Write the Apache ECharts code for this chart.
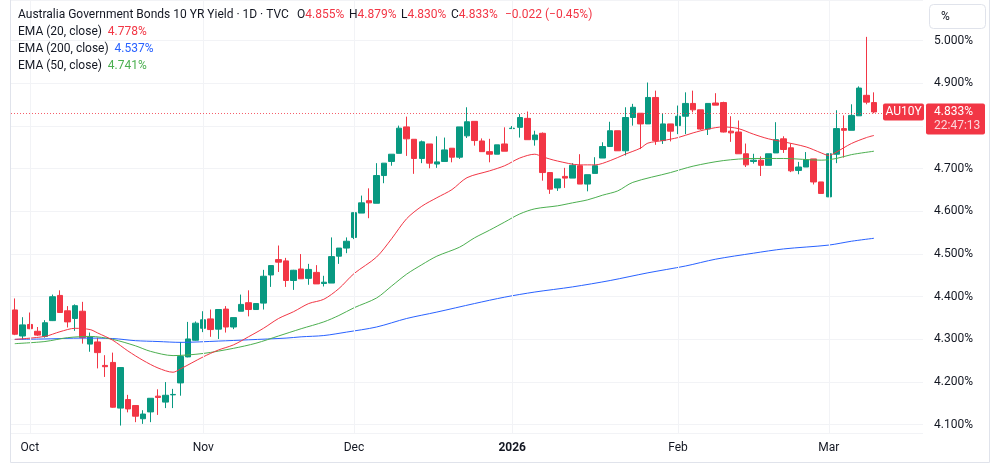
<!DOCTYPE html>
<html>
<head>
<meta charset="utf-8">
<title>AU10Y</title>
<script src="https://cdn.jsdelivr.net/npm/echarts@6/dist/echarts.min.js"></script>
<style>
html,body{margin:0;padding:0;background:#fff;}
#main{width:1000px;height:467px;}
</style>
</head>
<body>
<div id="main"></div>
<script>
// daily candles, Sep 29 2025 .. Mar 10 2026
var opens = [
  4.369,4.308,4.335,4.319,4.307,4.344,4.403,4.367,4.349,4.366,
  4.289,4.294,4.239,4.246,4.139,4.159,4.145,4.114,4.130,4.167,
  4.153,4.170,4.198,4.259,4.298,4.326,4.348,4.324,4.371,4.329,
  4.366,4.386,4.370,4.385,4.451,4.487,4.484,4.438,4.465,4.443,
  4.457,4.431,4.432,4.495,4.514,4.539,4.596,4.625,4.619,4.684,
  4.717,4.736,4.798,4.769,4.724,4.758,4.711,4.717,4.748,4.727,
  4.777,4.811,4.765,4.740,4.734,4.758,4.794,4.797,4.818,4.768,
  4.783,4.691,4.655,4.682,4.678,4.707,4.664,4.689,4.725,4.752,
  4.789,4.742,4.820,4.830,4.805,4.867,4.766,4.805,4.801,4.823,
  4.853,4.838,4.793,4.854,4.855,4.788,4.786,4.735,4.717,4.720,
  4.708,4.737,4.770,4.749,4.696,4.704,4.723,4.669,4.634,4.734,
  4.794,4.790,4.824,4.872,4.855
];
var highs = [
  4.396,4.352,4.363,4.329,4.345,4.405,4.415,4.378,4.382,4.388,
  4.316,4.304,4.263,4.269,4.235,4.170,4.146,4.134,4.162,4.183,
  4.200,4.184,4.294,4.341,4.342,4.366,4.370,4.370,4.378,4.351,
  4.405,4.415,4.384,4.463,4.473,4.520,4.491,4.463,4.500,4.477,
  4.474,4.449,4.539,4.514,4.539,4.597,4.637,4.654,4.713,4.713,
  4.734,4.801,4.822,4.769,4.766,4.758,4.776,4.773,4.748,4.798,
  4.844,4.811,4.771,4.770,4.756,4.797,4.800,4.828,4.834,4.789,
  4.785,4.691,4.676,4.702,4.713,4.734,4.686,4.727,4.762,4.810,
  4.789,4.844,4.852,4.830,4.902,4.883,4.830,4.805,4.848,4.879,
  4.883,4.838,4.853,4.877,4.857,4.823,4.813,4.759,4.735,4.729,
  4.735,4.809,4.776,4.759,4.716,4.739,4.723,4.669,4.735,4.837,
  4.825,4.851,4.893,5.009,4.879
];
var lows = [
  4.310,4.300,4.324,4.308,4.304,4.343,4.362,4.328,4.320,4.290,
  4.271,4.232,4.212,4.140,4.098,4.129,4.106,4.102,4.106,4.123,
  4.139,4.139,4.168,4.258,4.297,4.317,4.306,4.301,4.316,4.324,
  4.366,4.354,4.369,4.370,4.423,4.458,4.423,4.416,4.442,4.428,
  4.430,4.424,4.432,4.477,4.502,4.535,4.596,4.584,4.619,4.666,
  4.707,4.736,4.730,4.688,4.713,4.701,4.702,4.717,4.715,4.723,
  4.772,4.754,4.740,4.715,4.734,4.741,4.793,4.773,4.768,4.754,
  4.672,4.641,4.648,4.655,4.678,4.664,4.647,4.689,4.725,4.752,
  4.742,4.731,4.801,4.746,4.805,4.756,4.758,4.764,4.781,4.781,
  4.832,4.791,4.779,4.849,4.785,4.763,4.735,4.704,4.712,4.683,
  4.708,4.737,4.737,4.692,4.687,4.704,4.663,4.642,4.634,4.713,
  4.726,4.790,4.824,4.851,4.830
];
var closes = [
  4.312,4.334,4.325,4.310,4.339,4.400,4.363,4.341,4.379,4.304,
  4.306,4.269,4.236,4.141,4.234,4.137,4.120,4.125,4.162,4.164,
  4.169,4.171,4.260,4.301,4.338,4.346,4.323,4.370,4.329,4.351,
  4.382,4.370,4.384,4.448,4.473,4.481,4.438,4.462,4.442,4.464,
  4.430,4.434,4.494,4.514,4.530,4.597,4.620,4.620,4.684,4.713,
  4.734,4.795,4.770,4.724,4.763,4.713,4.716,4.744,4.727,4.798,
  4.810,4.766,4.740,4.734,4.756,4.741,4.795,4.820,4.768,4.779,
  4.691,4.652,4.676,4.678,4.708,4.664,4.686,4.707,4.752,4.789,
  4.742,4.820,4.844,4.805,4.867,4.766,4.805,4.788,4.823,4.853,
  4.838,4.793,4.853,4.849,4.786,4.784,4.735,4.709,4.720,4.708,
  4.735,4.768,4.745,4.695,4.704,4.721,4.669,4.642,4.735,4.794,
  4.790,4.825,4.889,4.856,4.833
];
// EMA readings: [bar index, value]
var ema20 = [
  [0,4.300],[4,4.307],[6,4.318],[8,4.326],[10,4.323],[11,4.315],[13,4.298],[15,4.273],
  [17,4.251],[19,4.233],[21,4.223],[22,4.231],[25,4.259],[27,4.275],[29,4.287],[31,4.306],
  [33,4.326],[35,4.349],[37,4.365],[39,4.384],[41,4.394],[43,4.419],[45,4.454],[48,4.493],
  [50,4.536],[52,4.583],[54,4.612],[56,4.632],[58,4.651],[60,4.679],[63,4.695],[65,4.707],
  [67,4.725],[69,4.734],[70,4.728],[72,4.718],[75,4.709],[77,4.709],[79,4.719],[81,4.734],
  [83,4.748],[84,4.760],[86,4.766],[88,4.773],[90,4.784],[92,4.793],[94,4.798],[96,4.794],
  [98,4.781],[100,4.770],[102,4.763],[105,4.751],[107,4.737],[108,4.731],[109,4.739],
  [111,4.759],[113,4.773],[114,4.778]
];
var ema50 = [
  [0,4.290],[4,4.295],[7,4.304],[10,4.307],[13,4.300],[16,4.285],[18,4.272],[21,4.262],
  [25,4.267],[29,4.279],[32,4.291],[35,4.308],[38,4.325],[41,4.341],[43,4.356],[45,4.374],
  [48,4.397],[50,4.425],[52,4.453],[54,4.475],[56,4.495],[59,4.516],[61,4.538],[63,4.556],
  [65,4.575],[67,4.594],[69,4.606],[72,4.613],[74,4.620],[76,4.627],[78,4.638],[80,4.648],
  [82,4.668],[87,4.691],[90,4.706],[94,4.719],[98,4.724],[102,4.724],[107,4.720],[109,4.724],
  [111,4.733],[114,4.741]
];
var ema200 = [
  [0,4.300],[4,4.301],[9,4.303],[13,4.302],[16,4.297],[19,4.295],[22,4.293],[27,4.296],
  [31,4.299],[36,4.303],[38,4.306],[41,4.309],[44,4.317],[48,4.329],[52,4.349],[56,4.364],
  [61,4.384],[65,4.399],[69,4.411],[74,4.423],[79,4.438],[84,4.456],[89,4.472],[93,4.488],
  [98,4.502],[102,4.512],[108,4.521],[111,4.530],[114,4.537]
];
var monthLabels = {
  '2025-10-01': 'Oct', '2025-11-03': 'Nov', '2025-12-01': 'Dec',
  '2026-01-01': '2026', '2026-02-02': 'Feb', '2026-03-02': 'Mar'
};
var holidays = ['2025-12-25', '2025-12-26'];
var futureDays = 6;
var lastClose = 4.833;
// header readout: [label, value]
var ohlcHeader = [['O', '4.855%'], ['H', '4.879%'], ['L', '4.830%'], ['C', '4.833%'], ['', '−0.022 (−0.45%)']];

var UP = '#089981', DOWN = '#F23645';
var FONT = 'Roboto, "Noto Sans", sans-serif';
var LEG = '12px ' + FONT;

// trading days (weekdays minus holidays), plus empty slots on the right
var dates = [];
var d = new Date(Date.UTC(2025, 8, 29));
while (dates.length < opens.length + futureDays) {
  var s = d.toISOString().slice(0, 10);
  var wd = d.getUTCDay();
  if (wd !== 0 && wd !== 6 && holidays.indexOf(s) < 0) dates.push(s);
  d.setUTCDate(d.getUTCDate() + 1);
}
var ohlc = [];
for (var i = 0; i < opens.length; i++) {
  ohlc.push([opens[i], closes[i], lows[i], highs[i]]);
}
var monthLines = [];
for (var k in monthLabels) monthLines.push({ xAxis: k });

var myChart = echarts.init(document.getElementById('main'));

function legendText() {
  var out = [
    { type: 'text', x: 18, y: 15, z: 50, style: { text: 'Australia Government Bonds 10 YR Yield · 1D · TVC', font: LEG, fill: '#131722', verticalAlign: 'middle' } },
    { type: 'text', x: 18, y: 32, z: 50, style: { text: 'EMA (20, close)  {v|4.778%}', font: LEG, fill: '#131722', verticalAlign: 'middle', rich: { v: { fill: '#F23645', font: LEG } } } },
    { type: 'text', x: 18, y: 49, z: 50, style: { text: 'EMA (200, close)  {v|4.537%}', font: LEG, fill: '#131722', verticalAlign: 'middle', rich: { v: { fill: '#2962FF', font: LEG } } } },
    { type: 'text', x: 18, y: 66, z: 50, style: { text: 'EMA (50, close)  {v|4.741%}', font: LEG, fill: '#131722', verticalAlign: 'middle', rich: { v: { fill: '#4CAF50', font: LEG } } } }
  ];
  var xs = [297, 349, 401, 451, 505];
  ohlcHeader.forEach(function (h, j) {
    out.push({ type: 'text', x: xs[j], y: 15, z: 50, style: { text: h[0] + '{r|' + h[1] + '}', font: LEG, fill: '#131722', verticalAlign: 'middle', rich: { r: { fill: DOWN, font: LEG } } } });
  });
  return out;
}

var option = {
  animation: false,
  backgroundColor: '#ffffff',
  textStyle: { fontFamily: FONT },
  grid: { left: 11, right: 77, top: 0, bottom: 34 },
  xAxis: {
    type: 'category',
    data: dates,
    boundaryGap: true,
    axisLine: { show: false },
    axisTick: { show: false },
    splitLine: { show: false },
    axisLabel: {
      margin: 9,
      fontSize: 12,
      color: '#131722',
      interval: function (idx, val) { return monthLabels[val] != null; },
      formatter: function (val) {
        var t = monthLabels[val] || '';
        return t === '2026' ? '{b|2026}' : t;
      },
      rich: { b: { fontWeight: 'bold', fontSize: 12, color: '#131722' } }
    }
  },
  yAxis: {
    type: 'value',
    position: 'right',
    min: 4.0806,
    max: 5.0954,
    splitNumber: 10,
    axisLine: { show: false },
    axisTick: { show: false },
    splitLine: { show: true, lineStyle: { color: '#f2f3f6', width: 1 } },
    axisLabel: {
      margin: 11,
      fontSize: 12,
      color: '#131722',
      showMinLabel: false,
      showMaxLabel: false,
      formatter: function (v) { return v.toFixed(3) + '%'; }
    }
  },
  series: [
    {
      name: 'vgrid',
      type: 'line',
      data: [],
      silent: true,
      z: 0,
      markLine: {
        silent: true,
        symbol: 'none',
        label: { show: false },
        lineStyle: { color: '#f2f3f6', type: 'solid', width: 1 },
        data: monthLines
      }
    },
    {
      name: 'AU10Y',
      type: 'candlestick',
      data: ohlc,
      barWidth: 6,
      z: 3,
      itemStyle: {
        color: UP, color0: DOWN,
        borderColor: UP, borderColor0: DOWN,
        borderColorDoji: UP,
        borderWidth: 1
      },
      markLine: {
        silent: true,
        symbol: 'none',
        label: { show: false },
        lineStyle: { color: DOWN, type: [1, 2], width: 1, opacity: 0.8 },
        data: [{ yAxis: lastClose }]
      }
    },
    {
      name: 'EMA 200', type: 'line', data: ema200, showSymbol: false, smooth: 0.3, z: 4,
      lineStyle: { color: '#2962FF', width: 1 }
    },
    {
      name: 'EMA 50', type: 'line', data: ema50, showSymbol: false, smooth: 0.3, z: 4,
      lineStyle: { color: '#4CAF50', width: 1 }
    },
    {
      name: 'EMA 20', type: 'line', data: ema20, showSymbol: false, smooth: 0.3, z: 4,
      lineStyle: { color: '#F23645', width: 1 }
    }
  ]
};
myChart.setOption(option);

// price scale tags and frame
var py = myChart.convertToPixel({ yAxisIndex: 0 }, lastClose);
var g = legendText().concat([
  { type: 'rect', z: 1, shape: { x: 10.5, y: -10, width: 979, height: 472.5 }, style: { fill: 'none', stroke: '#e0e3eb', lineWidth: 1 } },
  { type: 'rect', z: 50, shape: { x: 929.5, y: 4.5, width: 56, height: 24, r: 4 }, style: { fill: '#fff', stroke: '#e0e3eb', lineWidth: 1 } },
  { type: 'text', z: 51, x: 941, y: 16.5, style: { text: '%', font: '12px ' + FONT, fill: '#131722', verticalAlign: 'middle' } },
  { type: 'rect', z: 100, shape: { x: 883, y: py - 8.5, width: 41, height: 17, r: 2 }, style: { fill: DOWN } },
  { type: 'text', z: 101, x: 903.5, y: py + 0.5, style: { text: 'AU10Y', font: '12px ' + FONT, fill: '#fff', align: 'center', verticalAlign: 'middle' } },
  { type: 'rect', z: 100, shape: { x: 926, y: py - 8.5, width: 59, height: 31, r: 2 }, style: { fill: DOWN } },
  { type: 'text', z: 101, x: 934, y: py + 0.5, style: { text: '4.833%', font: '12px ' + FONT, fill: '#fff', verticalAlign: 'middle' } },
  { type: 'text', z: 101, x: 934, y: py + 14.5, style: { text: '22:47:13', font: '12px ' + FONT, fill: 'rgba(255,255,255,0.8)', verticalAlign: 'middle' } }
]);
myChart.setOption({ graphic: g });
</script>
</body>
</html>
